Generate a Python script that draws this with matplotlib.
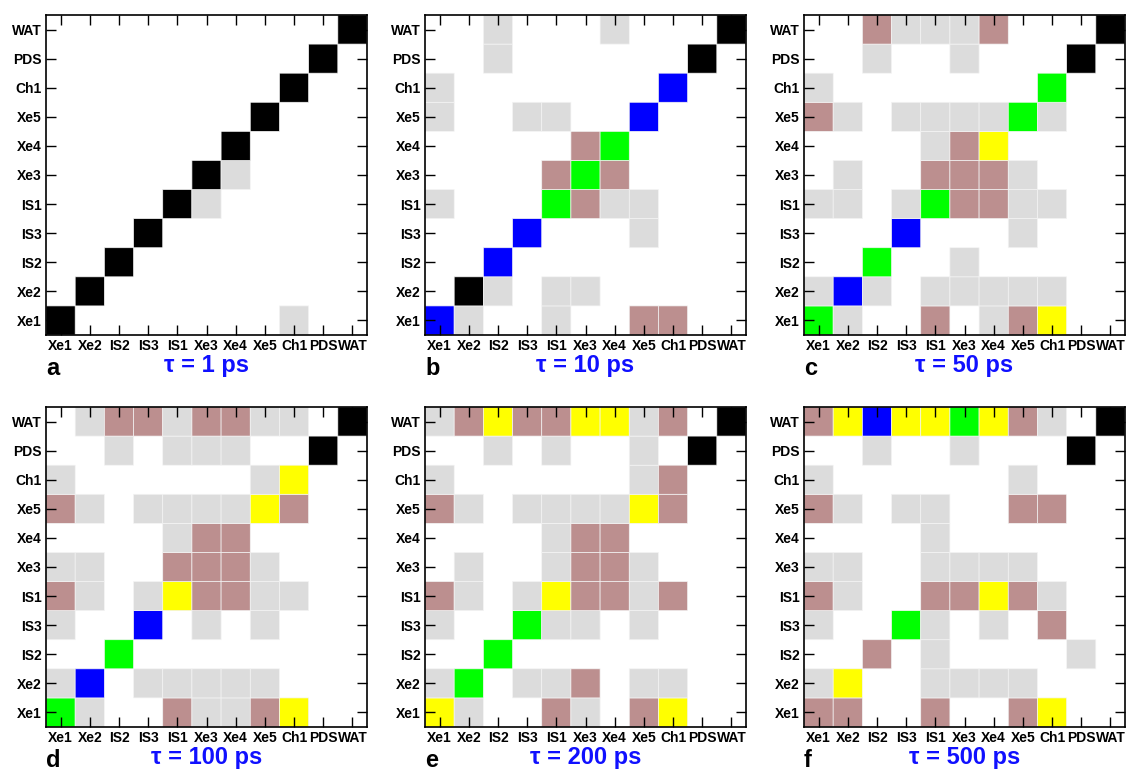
import numpy as np
import matplotlib
matplotlib.use('Agg')
import matplotlib.pyplot as plt
from matplotlib.colors import ListedColormap, BoundaryNorm

plt.rcParams['font.family'] = ['Liberation Sans', 'DejaVu Sans']

# column order (left to right) and row order (top to bottom)
cols = ['Xe1', 'Xe2', 'IS2', 'IS3', 'IS1', 'Xe3', 'Xe4', 'Xe5', 'Ch1', 'PDS', 'WAT']
rows = ['WAT', 'PDS', 'Ch1', 'Xe5', 'Xe4', 'Xe3', 'IS1', 'IS3', 'IS2', 'Xe2', 'Xe1']

# 0 none, 1 gray, 2 brown, 3 yellow, 4 green, 5 blue, 6 black
tau_1 = [
    [0, 0, 0, 0, 0, 0, 0, 0, 0, 0, 6],
    [0, 0, 0, 0, 0, 0, 0, 0, 0, 6, 0],
    [0, 0, 0, 0, 0, 0, 0, 0, 6, 0, 0],
    [0, 0, 0, 0, 0, 0, 0, 6, 0, 0, 0],
    [0, 0, 0, 0, 0, 0, 6, 0, 0, 0, 0],
    [0, 0, 0, 0, 0, 6, 1, 0, 0, 0, 0],
    [0, 0, 0, 0, 6, 1, 0, 0, 0, 0, 0],
    [0, 0, 0, 6, 0, 0, 0, 0, 0, 0, 0],
    [0, 0, 6, 0, 0, 0, 0, 0, 0, 0, 0],
    [0, 6, 0, 0, 0, 0, 0, 0, 0, 0, 0],
    [6, 0, 0, 0, 0, 0, 0, 0, 1, 0, 0],
]
tau_10 = [
    [0, 0, 1, 0, 0, 0, 1, 0, 0, 0, 6],
    [0, 0, 1, 0, 0, 0, 0, 0, 0, 6, 0],
    [1, 0, 0, 0, 0, 0, 0, 0, 5, 0, 0],
    [1, 0, 0, 1, 1, 0, 0, 5, 0, 0, 0],
    [0, 0, 0, 0, 0, 2, 4, 0, 0, 0, 0],
    [0, 0, 0, 0, 2, 4, 2, 0, 0, 0, 0],
    [1, 0, 0, 0, 4, 2, 1, 1, 0, 0, 0],
    [0, 0, 0, 5, 0, 0, 0, 1, 0, 0, 0],
    [0, 0, 5, 0, 0, 0, 0, 0, 0, 0, 0],
    [0, 6, 1, 0, 1, 1, 0, 0, 0, 0, 0],
    [5, 1, 0, 0, 1, 0, 0, 2, 2, 0, 0],
]
tau_50 = [
    [0, 0, 2, 1, 1, 1, 2, 0, 0, 0, 6],
    [0, 0, 1, 0, 0, 1, 0, 0, 0, 6, 0],
    [1, 0, 0, 0, 0, 0, 0, 0, 4, 0, 0],
    [2, 1, 0, 1, 1, 1, 1, 4, 1, 0, 0],
    [0, 0, 0, 0, 1, 2, 3, 0, 0, 0, 0],
    [0, 1, 0, 0, 2, 2, 2, 1, 0, 0, 0],
    [1, 1, 0, 1, 4, 2, 2, 1, 1, 0, 0],
    [0, 0, 0, 5, 0, 0, 0, 1, 0, 0, 0],
    [0, 0, 4, 0, 0, 1, 0, 0, 0, 0, 0],
    [1, 5, 1, 0, 1, 1, 1, 1, 1, 0, 0],
    [4, 1, 0, 0, 2, 0, 1, 2, 3, 0, 0],
]
tau_100 = [
    [0, 1, 2, 2, 1, 2, 2, 1, 1, 0, 6],
    [0, 0, 1, 0, 1, 1, 1, 0, 0, 6, 0],
    [1, 0, 0, 0, 0, 0, 0, 1, 3, 0, 0],
    [2, 1, 0, 1, 1, 1, 1, 3, 2, 0, 0],
    [0, 0, 0, 0, 1, 2, 2, 0, 0, 0, 0],
    [1, 1, 0, 0, 2, 2, 2, 1, 0, 0, 0],
    [2, 1, 0, 1, 3, 2, 2, 1, 1, 0, 0],
    [1, 0, 0, 5, 0, 1, 0, 1, 0, 0, 0],
    [0, 0, 4, 0, 0, 0, 0, 0, 0, 0, 0],
    [1, 5, 0, 1, 1, 1, 1, 1, 0, 0, 0],
    [4, 1, 0, 0, 2, 1, 1, 2, 3, 0, 0],
]
tau_200 = [
    [1, 2, 3, 2, 2, 3, 3, 1, 2, 0, 6],
    [0, 0, 1, 0, 1, 0, 0, 1, 0, 6, 0],
    [1, 0, 0, 0, 0, 0, 0, 1, 2, 0, 0],
    [2, 1, 0, 1, 1, 1, 1, 3, 2, 0, 0],
    [0, 0, 0, 0, 1, 2, 2, 0, 0, 0, 0],
    [0, 1, 0, 0, 1, 2, 2, 1, 0, 0, 0],
    [2, 1, 0, 1, 3, 2, 2, 1, 2, 0, 0],
    [1, 0, 0, 4, 1, 1, 0, 1, 0, 0, 0],
    [0, 0, 4, 0, 0, 0, 0, 0, 0, 0, 0],
    [1, 4, 0, 1, 1, 2, 0, 1, 1, 0, 0],
    [3, 1, 0, 0, 2, 1, 0, 2, 3, 0, 0],
]
tau_500 = [
    [2, 3, 5, 3, 3, 4, 3, 2, 1, 0, 6],
    [0, 0, 1, 0, 0, 1, 0, 0, 0, 6, 0],
    [1, 0, 0, 0, 0, 0, 0, 1, 0, 0, 0],
    [2, 1, 0, 1, 1, 0, 0, 2, 2, 0, 0],
    [0, 0, 0, 0, 1, 0, 0, 0, 0, 0, 0],
    [1, 1, 0, 0, 1, 1, 1, 1, 0, 0, 0],
    [2, 1, 0, 0, 2, 2, 3, 2, 1, 0, 0],
    [1, 0, 0, 4, 1, 0, 1, 0, 2, 0, 0],
    [0, 0, 2, 0, 1, 0, 0, 0, 0, 1, 0],
    [1, 3, 0, 0, 1, 1, 1, 1, 0, 0, 0],
    [2, 2, 0, 0, 2, 0, 0, 2, 3, 0, 0],
]

panels = [tau_1, tau_10, tau_50, tau_100, tau_200, tau_500]
titles = ['τ = 1 ps', 'τ = 10 ps', 'τ = 50 ps', 'τ = 100 ps', 'τ = 200 ps', 'τ = 500 ps']
letters = ['a', 'b', 'c', 'd', 'e', 'f']

cmap = ListedColormap(['white', '#dcdcdc', '#bc8f8f', '#ffff00', '#00ff00', '#0000ff', 'black'])
norm = BoundaryNorm(np.arange(-0.5, 7.5, 1), cmap.N)

fig = plt.figure(figsize=(11.26, 7.71), dpi=100)

lefts = [46, 425, 804]
tops = [15, 407]
W, H = 1126, 771

for i in range(6):
    l = lefts[i % 3]
    t = tops[i // 3]
    ax = fig.add_axes([l / W, (H - t - 320) / H, 321 / W, 320 / H])
    m = np.ma.masked_equal(np.array(panels[i])[::-1], 0)
    # pcolor drops the masked (empty) cells, so no grid shows in white areas
    ax.pcolor(np.arange(12), np.arange(12), m, cmap=cmap, norm=norm,
              edgecolors='#f4f4f4', linewidth=0.5)
    ax.set_xlim(0, 11)
    ax.set_ylim(0, 11)
    ax.set_xticks(np.arange(11) + 0.5)
    ax.set_yticks(np.arange(11) + 0.5)
    ax.set_xticklabels(cols, fontsize=10, fontweight='bold')
    ax.set_yticklabels(rows[::-1], fontsize=10, fontweight='bold')
    ax.tick_params(direction='in', length=7, width=1, top=True, right=True, pad=3)
    for s in ax.spines.values():
        s.set_linewidth(1.2)
    ax.text(0.5, -0.095, titles[i], transform=ax.transAxes, ha='center', va='center',
            fontsize=17, fontweight='bold', color='#1010ff')
    ax.text(0.0, -0.125, letters[i], transform=ax.transAxes, ha='left', va='baseline',
            fontsize=17, fontweight='bold')

plt.savefig('out.png', dpi=100)
